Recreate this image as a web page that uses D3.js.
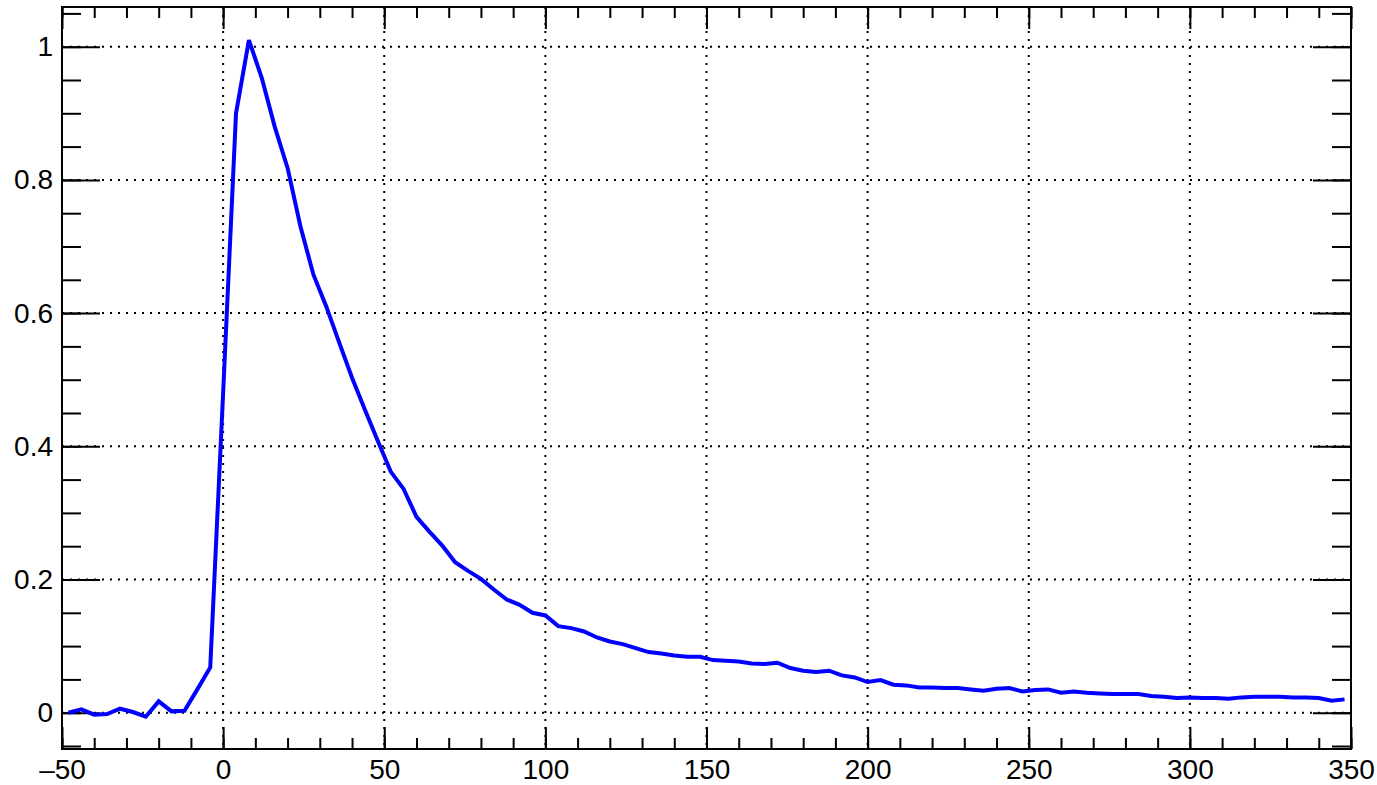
<!DOCTYPE html>
<html>
<head>
<meta charset="utf-8">
<script src="https://cdn.jsdelivr.net/npm/d3@7"></script>
<style>
  html, body { margin: 0; padding: 0; background: #fff; }
  svg { display: block; font-family: "Liberation Sans", Arial, Helvetica, sans-serif; }
  .axis path.domain { display: none; }
  .axis line { stroke: #000; stroke-width: 2px; }
  .axis text { font-size: 28px; fill: #000; }
  .grid line { stroke: #000; stroke-width: 2px; stroke-dasharray: 2,6; }
</style>
</head>
<body>
<div id="chart"></div>
<script>
// sample positions (bin centres)
const xValues = [-48, -44, -40, -36, -32, -28, -24, -20, -16, -12, -8, -4,
  0, 4, 8, 12, 16, 20, 24, 28, 32, 36, 40, 44, 48, 52, 56, 60, 64, 68, 72, 76,
  80, 84, 88, 92, 96, 100, 104, 108, 112, 116, 120, 124, 128, 132, 136, 140,
  144, 148, 152, 156, 160, 164, 168, 172, 176, 180, 184, 188, 192, 196, 200,
  204, 208, 212, 216, 220, 224, 228, 232, 236, 240, 244, 248, 252, 256, 260,
  264, 268, 272, 276, 280, 284, 288, 292, 296, 300, 304, 308, 312, 316, 320,
  324, 328, 332, 336, 340, 344, 348];

// pulse amplitude
const yValues = [0.000, 0.005, -0.003, -0.002, 0.006, 0.001, -0.006, 0.017, 0.002, 0.003, 0.035, 0.068,
  0.480, 0.900, 1.010, 0.953, 0.880, 0.818, 0.730, 0.658, 0.610, 0.556, 0.503, 0.455, 0.408, 0.362,
  0.336, 0.294, 0.272, 0.251, 0.226, 0.213, 0.201, 0.185, 0.170, 0.162, 0.150, 0.146, 0.130, 0.127,
  0.122, 0.113, 0.107, 0.103, 0.097, 0.091, 0.089, 0.086, 0.084, 0.084, 0.079, 0.078, 0.077, 0.074,
  0.073, 0.075, 0.067, 0.063, 0.061, 0.063, 0.056, 0.053, 0.046, 0.049, 0.042, 0.041, 0.038, 0.038,
  0.037, 0.037, 0.035, 0.033, 0.036, 0.037, 0.032, 0.034, 0.035, 0.030, 0.032, 0.030, 0.029, 0.028,
  0.028, 0.028, 0.025, 0.024, 0.022, 0.023, 0.022, 0.022, 0.021, 0.023, 0.024, 0.024, 0.024, 0.023,
  0.023, 0.022, 0.018, 0.020];

const xTicks = [-50, 0, 50, 100, 150, 200, 250, 300, 350];
const xTickLabels = ["\u201350", "0", "50", "100", "150", "200", "250", "300", "350"];
const yTicks = [0, 0.2, 0.4, 0.6, 0.8, 1];
const yTickLabels = ["0", "0.2", "0.4", "0.6", "0.8", "1"];

const W = 1377, H = 785;
const margin = {top: 7, right: 26, bottom: 36, left: 62};
const iw = W - margin.left - margin.right;
const ih = H - margin.top - margin.bottom;

const svg = d3.select("#chart").append("svg")
  .attr("width", W).attr("height", H);
const g = svg.append("g").attr("transform", `translate(${margin.left},${margin.top})`);

const x = d3.scaleLinear().domain([-50, 350]).range([0, iw]);
const y = d3.scaleLinear().domain([-0.0545, 1.0596]).range([ih, 0]);

// dotted grid
g.append("g").attr("class", "grid")
  .selectAll("line").data(xTicks.filter(d => d > -50 && d < 350)).join("line")
  .attr("x1", d => x(d)).attr("x2", d => x(d))
  .attr("y1", 0).attr("y2", ih);
g.append("g").attr("class", "grid")
  .selectAll("line").data(yTicks).join("line")
  .attr("x1", 0).attr("x2", iw)
  .attr("y1", d => y(d)).attr("y2", d => y(d));

// minor ticks
const xMinor = x.ticks(40), yMinor = y.ticks(20);
g.append("g").attr("class", "axis").attr("transform", `translate(0,${ih})`)
  .call(d3.axisBottom(x).tickValues(xMinor).tickSize(-11).tickFormat(""));
g.append("g").attr("class", "axis")
  .call(d3.axisTop(x).tickValues(xMinor).tickSize(-11).tickFormat(""));
g.append("g").attr("class", "axis")
  .call(d3.axisLeft(y).tickValues(yMinor).tickSize(-19).tickFormat(""));
g.append("g").attr("class", "axis").attr("transform", `translate(${iw},0)`)
  .call(d3.axisRight(y).tickValues(yMinor).tickSize(-19).tickFormat(""));

// major ticks + labels
g.append("g").attr("class", "axis").attr("transform", `translate(0,${ih})`)
  .call(d3.axisBottom(x).tickValues(xTicks).tickSize(-22).tickPadding(10)
    .tickFormat((d, i) => xTickLabels[i]));
g.append("g").attr("class", "axis")
  .call(d3.axisTop(x).tickValues(xTicks).tickSize(-22).tickFormat(""));
g.append("g").attr("class", "axis")
  .call(d3.axisLeft(y).tickValues(yTicks).tickSize(-38).tickPadding(9)
    .tickFormat((d, i) => yTickLabels[i]));
g.append("g").attr("class", "axis").attr("transform", `translate(${iw},0)`)
  .call(d3.axisRight(y).tickValues(yTicks).tickSize(-38).tickFormat(""));

// curve
const line = d3.line().x(d => x(d[0])).y(d => y(d[1]));
g.append("path")
  .datum(d3.zip(xValues, yValues))
  .attr("fill", "none")
  .attr("stroke", "#0000ff")
  .attr("stroke-width", 4)
  .attr("d", line);

// frame
g.append("rect")
  .attr("width", iw).attr("height", ih)
  .attr("fill", "none").attr("stroke", "#000").attr("stroke-width", 2);
</script>
</body>
</html>
